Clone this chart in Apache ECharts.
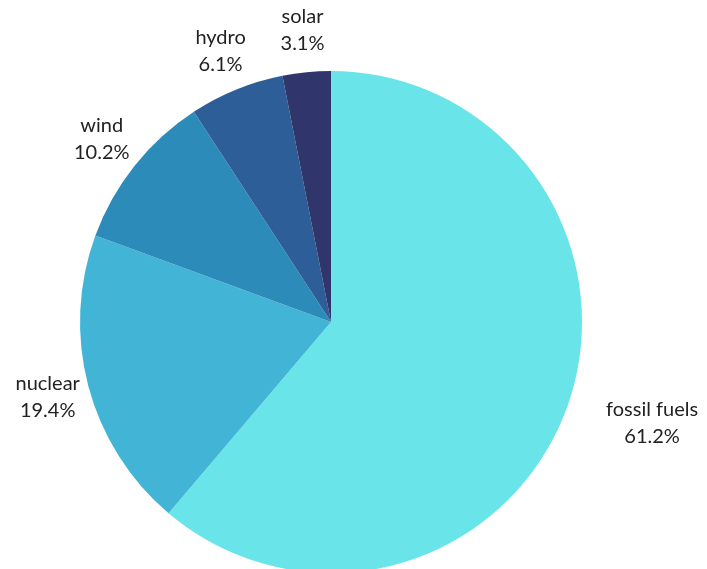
<!DOCTYPE html>
<html>
<head>
<meta charset="utf-8">
<script src="https://cdn.jsdelivr.net/npm/echarts@6/dist/echarts.min.js"></script>
<style>
html,body{margin:0;padding:0;background:#fff;}
#chart{width:707px;height:569px;}
</style>
</head>
<body>
<div id="chart"></div>
<script>
const categories = ['fossil fuels', 'nuclear', 'wind', 'hydro', 'solar'];
const shares = [61.2, 19.4, 10.2, 6.1, 3.1];
const colors = ['#69E4E8', '#42B5D6', '#2D8BBA', '#2D5E98', '#30366B'];

const cx = 331, cy = 322, R = 251, labelR = 293;
const total = shares.reduce((a, b) => a + b, 0);

const chart = echarts.init(document.getElementById('chart'));
chart.setOption({
  animation: false,
  series: [{
    type: 'pie',
    center: [cx, cy],
    radius: R,
    startAngle: 90,
    clockwise: true,
    data: categories.map((c, i) => ({ name: c, value: shares[i], itemStyle: { color: colors[i] } })),
    label: {
      show: true,
      position: 'outside',
      formatter: p => p.name + '\n' + p.value.toFixed(1) + '%',
      fontFamily: 'Lato',
      fontSize: 20,
      lineHeight: 27,
      color: '#222',
      align: 'center',
      overflow: 'none'
    },
    labelLine: { show: false },
    labelLayout: function (params) {
      const i = params.dataIndex;
      let cum = 0;
      for (let k = 0; k < i; k++) cum += shares[k];
      const mid = (cum + shares[i] / 2) / total * 2 * Math.PI;
      let x = cx + labelR * Math.sin(mid);
      const y = cy - labelR * Math.cos(mid);
      if (Math.sin(mid) > 0.8) x += params.labelRect.width / 2;
      return { x: x, y: y, align: 'center', verticalAlign: 'middle' };
    },
    emphasis: { disabled: true }
  }]
});
</script>
</body>
</html>
